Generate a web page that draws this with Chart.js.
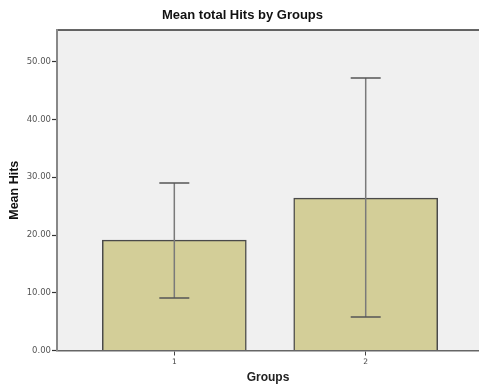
<!DOCTYPE html>
<html>
<head>
<meta charset="utf-8">
<script src="https://cdn.jsdelivr.net/npm/chart.js@4"></script>
<style>
  html, body { margin: 0; padding: 0; background: #ffffff; }
  #wrap { width: 479px; height: 385px; }
</style>
</head>
<body>
<div id="wrap"><canvas id="c" width="479" height="385"></canvas></div>
<script>
// ---- data ----
const groups = [1, 2];
const groupLabels = ['1', '2'];
const meanHits = [19.1, 26.4];
const errLow = [9.1, 5.8];
const errHigh = [29.0, 47.2];
const yTicks = [0, 10, 20, 30, 40, 50];

const chartTitle = 'Mean total Hits by Groups';
const xTitle = 'Groups';
const yTitle = 'Mean Hits';

const plotBg = {
  id: 'plotBg',
  beforeDraw(chart) {
    const { ctx, chartArea: a } = chart;
    ctx.save();
    ctx.fillStyle = '#f0f0f0';
    ctx.fillRect(a.left, a.top, a.right - a.left, a.bottom - a.top);
    ctx.strokeStyle = '#333333';
    ctx.lineWidth = 1.5;
    ctx.beginPath();
    ctx.moveTo(a.left, a.top);
    ctx.lineTo(a.right, a.top);
    ctx.stroke();
    ctx.restore();
  }
};

const errorBars = {
  id: 'errorBars',
  afterDatasetsDraw(chart) {
    const { ctx, scales } = chart;
    const xs = scales.x, ys = scales.y;
    ctx.save();
    groups.forEach((g, i) => {
      const x = xs.getPixelForValue(g);
      const yl = ys.getPixelForValue(errLow[i]);
      const yh = ys.getPixelForValue(errHigh[i]);
      ctx.strokeStyle = '#7a7a7a';
      ctx.lineWidth = 1.5;
      ctx.beginPath();
      ctx.moveTo(x, yl);
      ctx.lineTo(x, yh);
      ctx.stroke();
      ctx.strokeStyle = '#555555';
      ctx.lineWidth = 1.5;
      const hw = 15;
      ctx.beginPath();
      ctx.moveTo(x - hw, yl); ctx.lineTo(x + hw, yl);
      ctx.moveTo(x - hw, yh); ctx.lineTo(x + hw, yh);
      ctx.stroke();
    });
    ctx.restore();
  }
};

new Chart(document.getElementById('c'), {
  type: 'bar',
  data: {
    datasets: [{
      data: groups.map((g, i) => ({ x: g, y: meanHits[i] })),
      backgroundColor: '#d3ce98',
      borderColor: '#4a4a4a',
      borderWidth: 1.5,
      barThickness: 144
    }]
  },
  options: {
    responsive: false,
    animation: false,
    layout: { padding: { left: 6, right: 0, top: 0, bottom: 0 } },
    plugins: {
      legend: { display: false },
      tooltip: { enabled: false },
      title: {
        display: true,
        text: chartTitle,
        color: '#111111',
        font: { family: 'Liberation Sans', size: 13, weight: 'bold' },
        padding: { top: 7.5, bottom: 6.9 }
      }
    },
    scales: {
      x: {
        type: 'linear',
        offset: false,
        min: 0.387,
        max: 2.592,
        afterBuildTicks(scale) { scale.ticks = groups.map(v => ({ value: v })); },
        afterFit(scale) { scale.height = 34.5; },
        ticks: {
          callback(v) { const i = groups.indexOf(v); return i >= 0 ? groupLabels[i] : ''; },
          color: '#444444',
          font: { family: 'DejaVu Sans', size: 7.5 },
          padding: 2,
          maxRotation: 0
        },
        grid: { offset: false, drawOnChartArea: false, drawTicks: true, tickLength: 5, tickColor: '#444444', tickWidth: 1 },
        border: { display: true, color: '#666666', width: 1.5 },
        title: {
          display: true, text: xTitle, color: '#222222',
          font: { family: 'Liberation Sans', size: 12, weight: 'bold' },
          padding: { top: 0, bottom: 0 }
        }
      },
      y: {
        min: 0,
        max: 55.5,
        afterBuildTicks(scale) { scale.ticks = yTicks.map(v => ({ value: v })); },
        afterFit(scale) { scale.width = 51; },
        ticks: {
          callback(v) { return Number(v).toFixed(2); },
          color: '#555555',
          font: { family: 'DejaVu Sans', size: 8.5 },
          padding: 1
        },
        grid: { drawOnChartArea: false, drawTicks: true, tickLength: 5, tickColor: '#333333', tickWidth: 1.2 },
        border: { display: true, color: '#888888', width: 2 },
        title: {
          display: true, text: yTitle, color: '#111111',
          font: { family: 'Liberation Sans', size: 12.5, weight: 'bold' },
          padding: { top: 1, bottom: 0 }
        }
      }
    }
  },
  plugins: [plotBg, errorBars]
});
</script>
</body>
</html>
